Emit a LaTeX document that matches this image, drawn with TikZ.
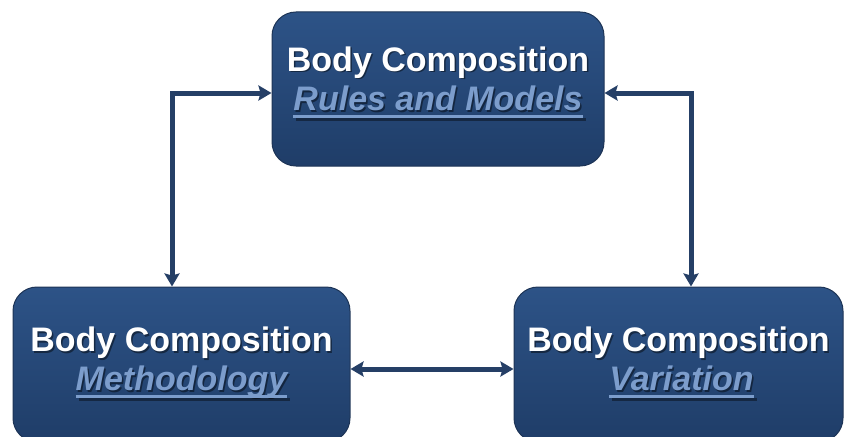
\documentclass[tikz,border=0pt]{standalone}
\usepackage{fontspec}
\setmainfont{Liberation Sans}
\usetikzlibrary{arrows.meta,calc}

\definecolor{navy}{RGB}{37,63,102}
\definecolor{boxtop}{RGB}{45,83,135}
\definecolor{boxbot}{RGB}{31,61,104}
\definecolor{boxedge}{RGB}{29,52,86}
\definecolor{sublink}{RGB}{124,157,204}

\tikzset{
  panel/.style={rectangle, rounded corners=24pt, draw=boxedge, line width=1pt,
    top color=boxtop, bottom color=boxbot, inner sep=0pt},
  heading/.style={text=white, inner sep=0pt, anchor=base,
    font=\fontsize{34}{40}\selectfont\bfseries},
  subheading/.style={text=sublink, inner sep=0pt, anchor=base,
    font=\fontsize{34}{40}\selectfont\bfseries\itshape},
  textshade/.style={text=black, opacity=0.45},
  underbar/.style={draw=sublink, line width=3pt},
  underbarshade/.style={draw=black, opacity=0.4, line width=3pt},
  link/.style={draw=navy, line width=5pt,
    {Stealth[length=13pt,width=15pt,inset=2pt]}-{Stealth[length=13pt,width=15pt,inset=2pt]}}
}

% two-line label: heading, underlined italic subheading, each with a soft shadow
\newcommand\panellabel[4]{%
  \node[heading, textshade] at ($(#1.north)+(1.5,#2+1.5)$) {Body Composition};
  \node[heading] (#1-head) at ($(#1.north)+(0,#2)$) {Body Composition};
  \node[subheading, textshade] (#1-subsh) at ($(#1.north)+(#4+1.5,#2+39+1.5)$) {#3};
  \path[underbarshade] ([xshift=1.5pt,yshift=-7.5pt]#1-subsh.base west) -- ([xshift=1.5pt,yshift=-7.5pt]#1-subsh.base east);
  \node[subheading] (#1-sub) at ($(#1.north)+(#4,#2+39)$) {#3};
  \path[underbar] ([yshift=-6pt]#1-sub.base west) -- ([yshift=-6pt]#1-sub.base east);
}

\begin{document}
\begin{tikzpicture}[x=1pt,y=-1pt]
  \clip (0,0) rectangle (845,436);
  \fill[white] (0,0) rectangle (845,436);

  % the three panels
  \node[panel, minimum width=332pt, minimum height=154pt] (rm)  at (438,89) {};
  \node[panel, minimum width=337pt, minimum height=155pt] (mth) at (181.5,364.5) {};
  \node[panel, minimum width=329pt, minimum height=155pt] (var) at (678.5,364.5) {};

  \panellabel{rm}{60}{Rules and Models}{0}
  \panellabel{mth}{65}{Methodology}{0}
  \panellabel{var}{65}{Variation}{3}

  % two-way links between the panels
  \draw[link] (rm.west |- 0,93) -| (mth.north -| 172,0);
  \draw[link] (rm.east |- 0,93) -| (var.north -| 691,0);
  \draw[link] (mth.east |- 0,369) -- (var.west |- 0,369);
\end{tikzpicture}
\end{document}
